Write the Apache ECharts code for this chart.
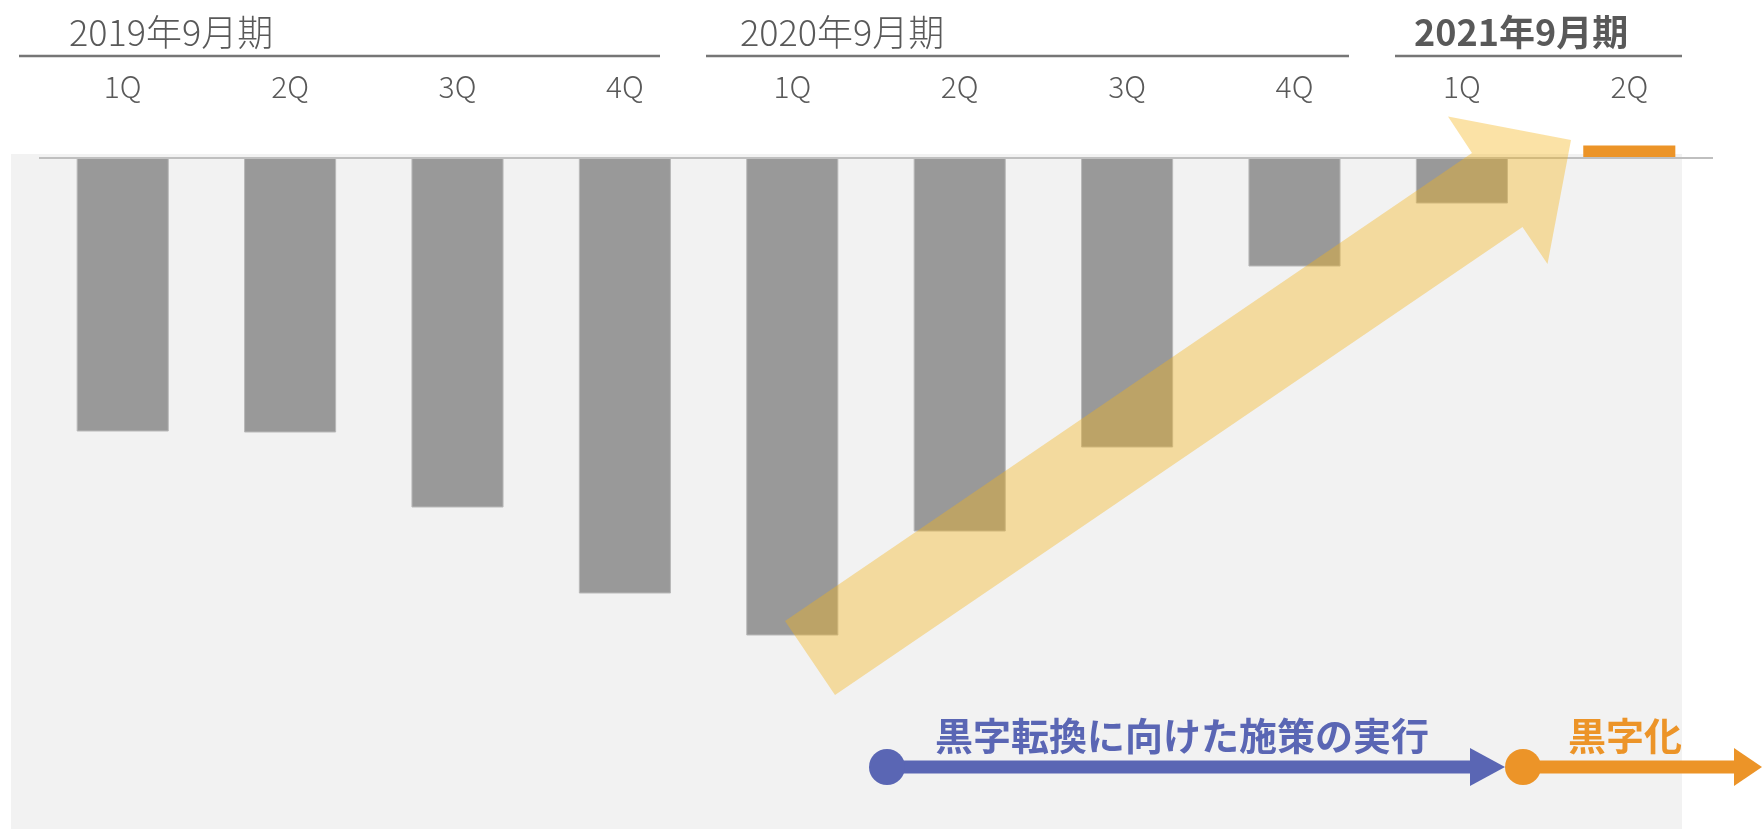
<!DOCTYPE html>
<html>
<head>
<meta charset="utf-8">
<style>
  html, body { margin: 0; padding: 0; background: #fff; }
  #chart { width: 1762px; height: 829px; }
</style>
<script src="https://cdn.jsdelivr.net/npm/echarts@6/dist/echarts.min.js"></script>
</head>
<body>
<div id="chart"></div>
<script>
// 四半期ごとの営業損益（相対値、図から読み取り）
const quarters = ['1Q', '2Q', '3Q', '4Q', '1Q', '2Q', '3Q', '4Q', '1Q', '2Q']
const profit = [-274, -275, -350, -436, -478, -374, -290, -109, -46, 12]
const fiscalYears = ['2019年9月期', '2020年9月期', '2021年9月期']
const stepLabels = ['黒字転換に向けた施策の実行', '黒字化']

const GRAY = '#999999'
const ORANGE = '#EC9428'
const BLUE = '#5A66B4'
const TEXT = '#595959'
const FONT = '"Noto Sans CJK JP", "Noto Sans", sans-serif'

const chart = echarts.init(document.getElementById('chart'))

// 年度の見出しと下線
const yearGraphics = []
const yearPos = [
    { x: 69, line: [19, 660], bold: false },
    { x: 740, line: [706, 1349], bold: false },
    { x: 1414, line: [1395, 1682], bold: true }
]
fiscalYears.forEach((label, i) => {
    const p = yearPos[i]
    yearGraphics.push({
        type: 'text',
        x: p.x,
        y: 32,
        z: 5,
        style: {
            text: label,
            fill: TEXT,
            font: (p.bold ? 'bold ' : '300 ') + '36px ' + FONT,
            textVerticalAlign: 'middle'
        }
    })
    yearGraphics.push({
        type: 'line',
        z: 5,
        shape: { x1: p.line[0], y1: 56, x2: p.line[1], y2: 56 },
        style: { stroke: '#767676', lineWidth: 2.5 }
    })
})

// 右肩上がりの矢印（半透明）
const bigArrow = {
    type: 'polygon',
    z: 20,
    shape: {
        points: [[785, 621], [1472, 153], [1448, 116.5], [1571, 140], [1547.5, 264], [1522.5, 227], [835, 695]]
    },
    style: { fill: 'rgba(245, 178, 20, 0.38)' }
}

// 下部のタイムライン
const timeline = [
    { type: 'rect', z: 5, shape: { x: 887, y: 760.5, width: 586, height: 13 }, style: { fill: BLUE } },
    { type: 'polygon', z: 5, shape: { points: [[1470, 748], [1505, 767], [1470, 786]] }, style: { fill: BLUE } },
    { type: 'circle', z: 6, shape: { cx: 887, cy: 767, r: 18 }, style: { fill: BLUE } },
    { type: 'rect', z: 5, shape: { x: 1523, y: 760.5, width: 213, height: 13 }, style: { fill: ORANGE } },
    { type: 'polygon', z: 5, shape: { points: [[1734, 748], [1762, 767], [1734, 786]] }, style: { fill: ORANGE } },
    { type: 'circle', z: 6, shape: { cx: 1523, cy: 767, r: 18 }, style: { fill: ORANGE } },
    {
        type: 'text', z: 6, x: 1182, y: 736,
        style: { text: stepLabels[0], fill: BLUE, font: 'bold 38px ' + FONT, textAlign: 'center', textVerticalAlign: 'middle' }
    },
    {
        type: 'text', z: 6, x: 1625, y: 736,
        style: { text: stepLabels[1], fill: ORANGE, font: 'bold 38px ' + FONT, textAlign: 'center', textVerticalAlign: 'middle' }
    }
]

const option = {
    backgroundColor: '#ffffff',
    animation: false,
    grid: { left: 39, right: 49, top: 137.5, bottom: 71.5 },
    xAxis: {
        type: 'category',
        position: 'top',
        data: quarters,
        axisLine: { show: false },
        axisTick: { show: false },
        axisLabel: {
            margin: 36,
            color: TEXT,
            fontSize: 30,
            fontWeight: 300,
            fontFamily: FONT
        }
    },
    yAxis: {
        type: 'value',
        min: -600,
        max: 20,
        show: false,
        splitLine: { show: false }
    },
    series: [{
        type: 'bar',
        data: profit.map((v, i) => ({
            value: v,
            itemStyle: v >= 0 ? { color: ORANGE, borderWidth: 0 } : { color: GRAY }
        })),
        barWidth: '55%',
        itemStyle: { color: GRAY, borderColor: '#b8b8b8', borderWidth: 1 },
        z: 3,
        markLine: {
            silent: true,
            symbol: 'none',
            label: { show: false },
            lineStyle: { color: '#BFBFBF', width: 2, type: 'solid' },
            data: [{ yAxis: 0 }]
        }
    }],
    graphic: [
        {
            type: 'rect',
            z: -10,
            shape: { x: 11, y: 154, width: 1671, height: 675 },
            style: { fill: '#F2F2F2' }
        },
        ...yearGraphics,
        bigArrow,
        ...timeline
    ]
}

chart.setOption(option)
</script>
</body>
</html>
